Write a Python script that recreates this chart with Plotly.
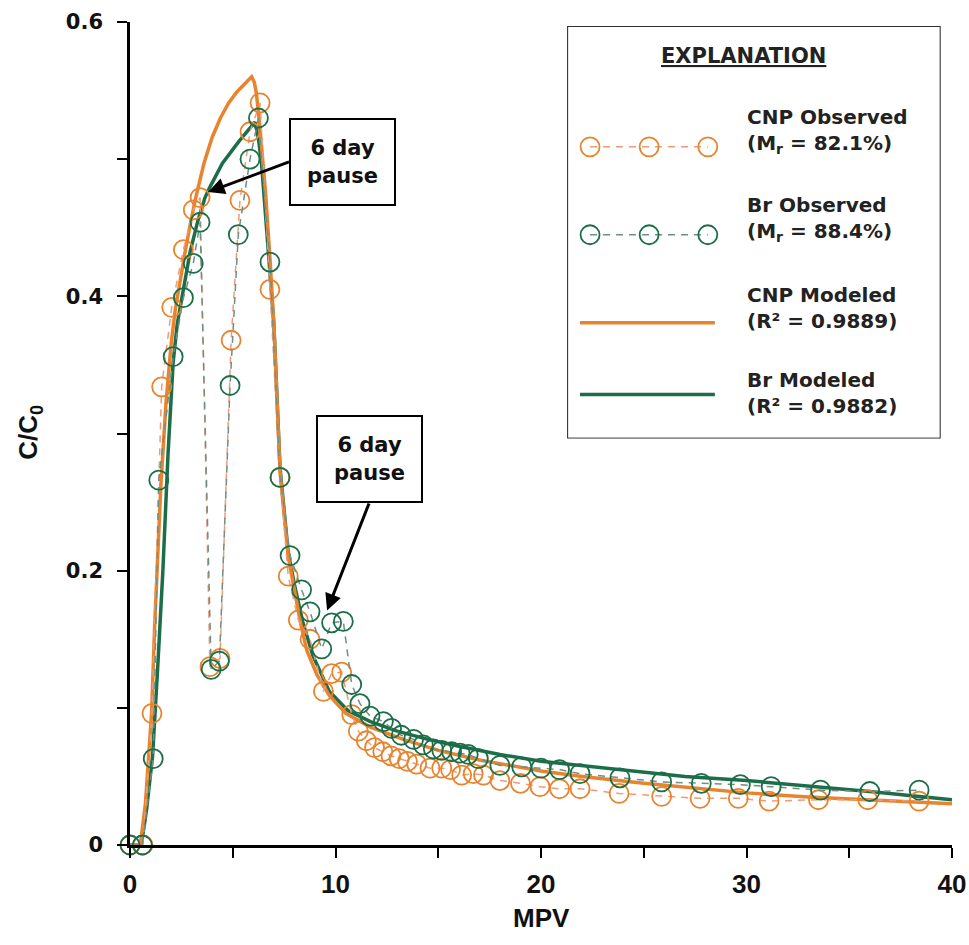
import plotly.graph_objects as go

# ---- Observed breakthrough data (MPV vs C/C0) ----
cnp_obs_x = [0, 0.63, 1.07, 1.54, 2.03, 2.6, 3.08, 3.41, 3.89, 4.38, 4.92, 5.35, 5.84, 6.33,
             6.81, 7.3, 7.7, 8.19, 8.76, 9.41, 9.81, 10.3, 10.79, 11.11, 11.5, 11.9, 12.3,
             12.7, 13.1, 13.5, 13.95, 14.6, 15.17, 15.6, 16.14, 16.7, 17.2, 18.0, 19.0,
             19.95, 20.9, 21.9, 23.8, 25.87, 27.74, 29.6, 31.1, 33.5, 35.9, 38.4]
cnp_obs_y = [0, 0, 0.096, 0.334, 0.392, 0.434, 0.463, 0.472, 0.130, 0.136, 0.368, 0.470, 0.520,
             0.541, 0.405, 0.268, 0.196, 0.164, 0.150, 0.112, 0.125, 0.126, 0.095, 0.083, 0.076,
             0.071, 0.068, 0.065, 0.063, 0.061, 0.059, 0.056, 0.056, 0.055, 0.051, 0.052, 0.051,
             0.047, 0.045, 0.0425, 0.041, 0.041, 0.0376, 0.0355, 0.034, 0.034, 0.032, 0.033,
             0.033, 0.032]

br_obs_x = [0, 0.6, 1.13, 1.4, 2.1, 2.6, 3.08, 3.41, 3.95, 4.35, 4.87, 5.27, 5.84, 6.25, 6.81,
            7.3, 7.79, 8.35, 8.76, 9.33, 9.81, 10.38, 10.79, 11.19, 11.68, 12.33, 12.73, 13.2,
            13.8, 14.27, 14.76, 15.17, 15.65, 16.06, 16.46, 16.95, 18.0, 19.06, 20.0, 20.9,
            21.9, 23.84, 25.87, 27.8, 29.7, 31.2, 33.6, 36.0, 38.4]
br_obs_y = [0, 0, 0.063, 0.266, 0.356, 0.399, 0.424, 0.454, 0.128, 0.134, 0.335, 0.445, 0.500,
            0.530, 0.425, 0.268, 0.211, 0.186, 0.170, 0.143, 0.162, 0.163, 0.117, 0.103, 0.094,
            0.090, 0.085, 0.080, 0.077, 0.073, 0.070, 0.069, 0.068, 0.067, 0.066, 0.063, 0.058,
            0.057, 0.056, 0.055, 0.052, 0.049, 0.046, 0.045, 0.044, 0.0425, 0.040, 0.039, 0.040]

# ---- Modeled breakthrough curves ----
cnp_mod_x = [0, 0.5, 0.75, 1.05, 1.2, 1.5, 1.75, 2.0, 2.2, 2.45, 2.7, 2.95, 3.2, 3.6, 4.0, 4.4,
             4.8, 5.2, 5.6, 5.92, 6.05, 6.15, 6.3, 6.45, 6.6, 6.8, 7.0, 7.3, 7.7, 8.0, 8.3, 8.6,
             9.1, 9.7, 10.5, 11.7, 13.3, 15.0, 17.0, 20.0, 22.0, 25.0, 27.0, 30.0, 33.0, 36.0,
             40.0]
cnp_mod_y = [0, 0, 0.03, 0.096, 0.16, 0.262, 0.322, 0.365, 0.39, 0.414, 0.434, 0.454, 0.472,
             0.497, 0.516, 0.530, 0.541, 0.549, 0.555, 0.560, 0.556, 0.548, 0.527, 0.503, 0.475,
             0.43, 0.38, 0.272, 0.21, 0.186, 0.162, 0.142, 0.124, 0.109, 0.096, 0.086, 0.077,
             0.069, 0.062, 0.054, 0.050, 0.045, 0.042, 0.038, 0.035, 0.033, 0.030]

br_mod_x = [0, 0.55, 0.8, 1.1, 1.35, 1.6, 1.85, 2.1, 2.3, 2.5, 2.7, 2.92, 3.3, 3.65, 3.9, 4.5,
            5.3, 6.08, 6.25, 6.4, 6.55, 6.7, 6.85, 7.0, 7.3, 7.7, 8.0, 8.4, 8.9, 9.7, 10.6, 11.7,
            13.0, 14.5, 16.0, 18.0, 20.0, 22.0, 25.0, 27.0, 30.0, 33.0, 36.0, 40.0]
br_mod_y = [0, 0, 0.025, 0.065, 0.13, 0.2, 0.285, 0.352, 0.38, 0.398, 0.415, 0.432, 0.455,
            0.472, 0.48, 0.497, 0.513, 0.527, 0.515, 0.497, 0.468, 0.44, 0.415, 0.38, 0.275,
            0.213, 0.19, 0.163, 0.138, 0.112, 0.098, 0.090, 0.083, 0.077, 0.072, 0.066, 0.061,
            0.058, 0.053, 0.050, 0.047, 0.043, 0.039, 0.033]

# ---- Axis ticks ----
x_tickvals = [0, 10, 20, 30, 40]
x_ticktext = ["0", "10", "20", "30", "40"]
y_tickvals = [0, 0.2, 0.4, 0.6]
y_ticktext = ["0", "0.2", "0.4", "0.6"]

# ---- Legend labels ----
legend_title = "EXPLANATION"
legend_labels = [
    "CNP Observed<br>(M<sub>r</sub> = 82.1%)",
    "Br Observed<br>(M<sub>r</sub> = 88.4%)",
    "CNP Modeled<br>(R² = 0.9889)",
    "Br Modeled<br>(R² = 0.9882)",
]
pause_label = "6 day<br>pause"

ORANGE = "#E8832E"
ORANGE_DASH = "#EE9B78"
GREEN = "#1C6E49"
GREEN_DASH = "#6F8F82"
BOLD = "DejaVu Sans"
NARROW = "Liberation Sans Narrow, Arial Narrow, Liberation Sans, sans-serif"

obs_marker = dict(symbol="circle-open", size=19)

fig = go.Figure()

# modeled curves
fig.add_trace(go.Scatter(x=br_mod_x, y=br_mod_y, mode="lines",
                         line=dict(color=GREEN, width=3.5), showlegend=False))
fig.add_trace(go.Scatter(x=cnp_mod_x, y=cnp_mod_y, mode="lines",
                         line=dict(color=ORANGE, width=3.5), showlegend=False))

# observed points
fig.add_trace(go.Scatter(x=cnp_obs_x, y=cnp_obs_y, mode="lines+markers", cliponaxis=False,
                         line=dict(color=ORANGE_DASH, width=1.5, dash="7px,6px"),
                         marker=dict(**obs_marker, color=ORANGE, line=dict(width=1.8)),
                         showlegend=False))
fig.add_trace(go.Scatter(x=br_obs_x, y=br_obs_y, mode="lines+markers", cliponaxis=False,
                         line=dict(color=GREEN_DASH, width=1.5, dash="7px,6px"),
                         marker=dict(**obs_marker, color=GREEN, line=dict(width=1.8)),
                         showlegend=False))

# ---- Explanation panel drawn on its own hidden axes ----
sample_marker_x = [0.059, 0.218, 0.376]
sample_line_x = [0.032, 0.395]
row_y = [0.708, 0.494, 0.280, 0.105]
text_y = [0.747, 0.533, 0.315, 0.108]

fig.add_trace(go.Scatter(x=sample_marker_x, y=[row_y[0]] * 3, xaxis="x2", yaxis="y2",
                         mode="lines+markers", showlegend=False,
                         line=dict(color=ORANGE_DASH, width=1.5, dash="7px,6px"),
                         marker=dict(**obs_marker, color=ORANGE, line=dict(width=1.8))))
fig.add_trace(go.Scatter(x=sample_marker_x, y=[row_y[1]] * 3, xaxis="x2", yaxis="y2",
                         mode="lines+markers", showlegend=False,
                         line=dict(color=GREEN_DASH, width=1.5, dash="7px,6px"),
                         marker=dict(**obs_marker, color=GREEN, line=dict(width=1.8))))
fig.add_trace(go.Scatter(x=sample_line_x, y=[row_y[2]] * 2, xaxis="x2", yaxis="y2",
                         mode="lines", showlegend=False,
                         line=dict(color=ORANGE, width=3.5)))
fig.add_trace(go.Scatter(x=sample_line_x, y=[row_y[3]] * 2, xaxis="x2", yaxis="y2",
                         mode="lines", showlegend=False,
                         line=dict(color=GREEN, width=3.5)))

annotations = [
    dict(xref="x2", yref="y2", x=0.473, y=0.929, text="<u>" + legend_title + "</u>",
         showarrow=False, font=dict(family=BOLD, size=21, weight="bold", color="#222")),
]
for label, ty in zip(legend_labels, text_y):
    annotations.append(dict(xref="x2", yref="y2", x=0.476, y=ty, text=label, align="left",
                            xanchor="left", yanchor="middle", showarrow=False,
                            font=dict(family=BOLD, size=20, weight="bold", color="#222")))

# pause call-outs
pause_style = dict(text=pause_label, showarrow=True, arrowhead=2, arrowsize=1.1,
                   arrowwidth=3, arrowcolor="black", bgcolor="white", bordercolor="black",
                   borderwidth=2, borderpad=4, width=95, height=76,
                   font=dict(family=BOLD, size=21, weight="bold", color="#111"),
                   xref="x", yref="y", axref="x", ayref="y")
annotations.append(dict(**pause_style, x=3.80, y=0.476, ax=7.74, ay=0.498,
                        xanchor="left", yanchor="middle"))
annotations.append(dict(**pause_style, x=9.59, y=0.171, ax=11.63, ay=0.249,
                        xanchor="center", yanchor="bottom"))

# axis titles
annotations.append(dict(xref="paper", yref="paper", x=0.5, y=-0.0887, text="MPV",
                        showarrow=False, yanchor="middle",
                        font=dict(family=NARROW, size=26, weight="bold", color="#111")))
annotations.append(dict(xref="paper", yref="paper", x=-0.1217, y=0.502,
                        text="C/C<sub>0</sub>", textangle=-90, showarrow=False,
                        xanchor="center", yanchor="middle",
                        font=dict(family=NARROW, size=26, weight="bold", color="#111")))

fig.update_layout(
    width=969, height=945,
    margin=dict(l=130, r=17, t=22, b=100, autoexpand=False),
    plot_bgcolor="white", paper_bgcolor="white",
    showlegend=False,
    xaxis=dict(range=[0, 40], tickvals=x_tickvals, ticktext=x_ticktext,
               showgrid=False, zeroline=False, showline=True, linecolor="black",
               linewidth=2.5, ticks="outside", ticklen=10, tickwidth=2, tickcolor="black",
               ticklabelstandoff=4,
               minor=dict(dtick=5, ticks="outside", ticklen=10, tickwidth=2,
                          tickcolor="black", showgrid=False),
               tickfont=dict(family=NARROW, size=26, weight="bold", color="#111")),
    yaxis=dict(range=[0, 0.6], tickvals=y_tickvals, ticktext=y_ticktext,
               showgrid=False, zeroline=False, showline=True, linecolor="black",
               linewidth=2.5, ticks="outside", ticklen=10, tickwidth=2, tickcolor="black",
               ticklabelstandoff=10,
               minor=dict(dtick=0.1, ticks="outside", ticklen=10, tickwidth=2,
                          tickcolor="black", showgrid=False),
               tickfont=dict(family=BOLD, size=21, weight="bold", color="#111")),
    xaxis2=dict(domain=[0.533, 0.985], range=[0, 1], anchor="y2", visible=False,
                fixedrange=True),
    yaxis2=dict(domain=[0.495, 0.994], range=[0, 1], anchor="x2", visible=False,
                fixedrange=True),
    shapes=[dict(type="rect", xref="paper", yref="paper", x0=0.533, x1=0.985,
                 y0=0.495, y1=0.994, line=dict(color="#222", width=2), layer="below")],
    annotations=annotations,
)

fig.write_html("out.html")
